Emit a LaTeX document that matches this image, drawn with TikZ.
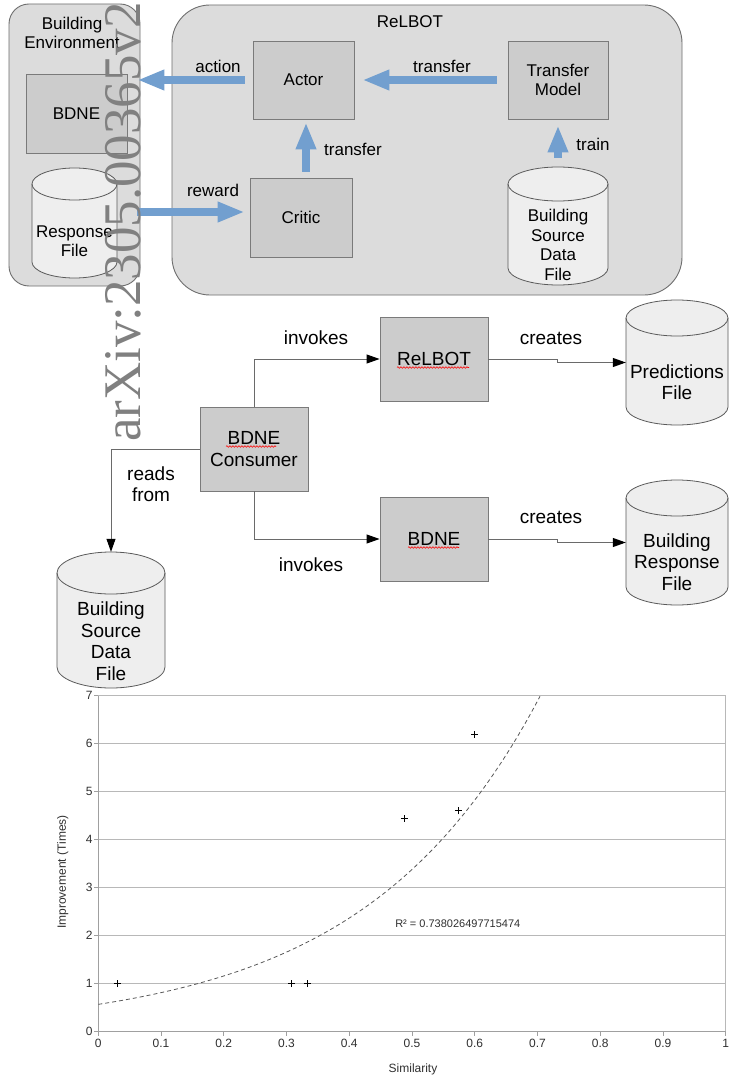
\documentclass[tikz,border=0pt]{standalone}
\usepackage{fontspec}
\setmainfont{Liberation Sans}
\newfontfamily\wmfont{Liberation Serif}
\usetikzlibrary{arrows.meta,calc,decorations.pathmorphing}
\definecolor{contfill}{HTML}{DCDCDC}
\definecolor{contline}{HTML}{6E6E6E}
\definecolor{boxfill}{HTML}{CCCCCC}
\definecolor{boxline}{HTML}{7A7A7A}
\definecolor{cylfill}{HTML}{EEEEEE}
\definecolor{cylline}{HTML}{5A5A5A}
\definecolor{bluearrow}{HTML}{729FCF}
\definecolor{connline}{HTML}{6A6A6A}
\definecolor{gridgray}{HTML}{B8B8B8}
\definecolor{axisgray}{HTML}{A0A0A0}
\definecolor{chartext}{HTML}{303030}
\definecolor{wmgray}{HTML}{808080}
\newcommand{\ftop}{\fontsize{17}{19.5}\selectfont}
\newcommand{\fmid}{\fontsize{19}{21.5}\selectfont}
\newcommand{\fchart}{\fontsize{12}{14}\selectfont}
\newcommand{\fsmall}{\fontsize{11}{13}\selectfont}
% name, cx, cy, rx, half height, ry
\newcommand{\dbcyl}[6]{%
  \filldraw[cylstyle] ({#2-#4},{#3+#5-#6}) arc[start angle=180,end angle=360,x radius=#4pt,y radius=#6pt]
     -- ({#2+#4},{#3-#5+#6}) arc[start angle=0,end angle=180,x radius=#4pt,y radius=#6pt] -- cycle;
  \draw[cylstyle,fill=none] ({#2-#4},{#3-#5+#6}) arc[start angle=180,end angle=360,x radius=#4pt,y radius=#6pt];
  \pgfmathsetmacro{\cylW}{2*#4}\pgfmathsetmacro{\cylH}{2*#5}%
  \node[inner sep=0pt,minimum width=\cylW pt,minimum height=\cylH pt] (#1) at (#2,#3) {};
}
\begin{document}
\begin{tikzpicture}[x=1pt,y=-1pt,
  cont/.style={draw=contline,fill=contfill,line width=0.9pt,inner sep=0pt},
  box/.style={draw=boxline,fill=boxfill,line width=0.9pt,inner sep=0pt,align=center},
  cylstyle/.style={draw=cylline,fill=cylfill,line width=0.8pt},
  txt/.style={align=center,inner sep=0pt},
  bluearr/.style={draw=bluearrow,line width=8pt,-{Triangle[length=27pt,width=19pt]}},
  conn/.style={draw=connline,line width=1pt,-{Triangle[length=13pt,width=9pt,color=black]}},
  spell/.style={draw=red,line width=0.6pt,decorate,decoration={snake,amplitude=0.8pt,segment length=3pt}},
  grid/.style={draw=gridgray,line width=0.8pt},
  axisline/.style={draw=axisgray,line width=0.8pt},
  trend/.style={draw=black!65,line width=0.8pt,dash pattern=on 4pt off 3pt},
  mk/.style={draw=black,line width=0.9pt},
  ticklab/.style={font=\fchart,text=chartext,inner sep=0pt}]
\useasboundingbox[fill=white] (0,0) rectangle (735,1086);

% ---------- top: containers ----------
\node[cont,rounded corners=20pt,minimum width=131pt,minimum height=282pt] (env) at (74.5,145) {};
\node[cont,rounded corners=38pt,minimum width=510pt,minimum height=290pt] (relbotc) at (427,150) {};
\node[txt,font=\ftop] (envlab) at (72,33) {Building\\Environment};
\node[txt,font=\ftop] (relbotlab) at (410,22) {ReLBOT};

% ---------- top: boxes ----------
\node[box,font=\ftop,minimum width=101pt,minimum height=79pt] (envbdne) at (76.5,113.5) {BDNE};
\node[box,font=\ftop,minimum width=101pt,minimum height=78pt] (actor) at (303.5,80) {Actor};
\node[box,font=\ftop,minimum width=102pt,minimum height=79pt] (critic) at (301,217.5) {Critic};
\node[box,font=\ftop,minimum width=100pt,minimum height=78pt] (tmodel) at (558,80) {Transfer\\Model};

\dbcyl{resp}{74.5}{223}{42.5}{55}{16}
\node[txt,font=\ftop] (resptxt) at (74.5,241) {Response\\File};
\dbcyl{srctop}{558}{226}{50}{59}{17}
\node[txt,font=\ftop] (srctoptxt) at (558,245) {Building\\Source\\Data\\File};

% ---------- top: blue arrows ----------
\draw[bluearr,shorten <=8pt,shorten >=-3pt] (actor.west) -- (actor.west -| env.east);
\draw[bluearr,shorten <=11pt,shorten >=8pt] (tmodel.west) -- (actor.east);
\draw[bluearr,shorten <=6pt,shorten >=3pt] ([xshift=5pt]critic.north) -- ([xshift=5pt]critic.north |- actor.south);
\draw[bluearr,shorten <=-3pt,shorten >=5pt] ([yshift=5.5pt]critic.west -| env.east) -- ([yshift=5.5pt]critic.west);
\draw[bluearr,shorten <=9pt,shorten >=6pt] (srctop.north) -- (tmodel.south);
\node[txt,font=\ftop] (lact) at (218,66) {action};
\node[txt,font=\ftop] (ltr1) at (442,66) {transfer};
\node[txt,font=\ftop] (ltr2) at (353,149) {transfer};
\node[txt,font=\ftop] (lrew) at (213,190) {reward};
\node[txt,font=\ftop] (ltrain) at (593,144) {train};

% ---------- middle ----------
\node[box,font=\fmid,minimum width=108pt,minimum height=84pt] (cons) at (254,449) {BDNE\\Consumer};
\node[box,font=\fmid,minimum width=108pt,minimum height=84pt] (relbot2) at (434,359) {ReLBOT};
\node[box,font=\fmid,minimum width=108pt,minimum height=84pt] (bdne2) at (434,539) {BDNE};
\draw[spell] (226,446.5) -- (276,446.5);
\draw[spell] (397,367.5) -- (469,367.5);
\draw[spell] (408,547.5) -- (459,547.5);

\dbcyl{pred}{677}{362.5}{51}{62.5}{18}
\node[txt,font=\fmid] (predtxt) at (677,382) {Predictions\\File};
\dbcyl{bresp}{677}{542.5}{51}{62.5}{18}
\node[txt,font=\fmid] (bresptxt) at (677,562) {Building\\Response\\File};
\dbcyl{srcbot}{111}{620}{54}{68}{21}
\node[txt,font=\fmid] (srcbottxt) at (111,641) {Building\\Source\\Data\\File};

\draw[conn] (cons.north) |- (relbot2.west);
\draw[conn] (cons.south) |- (bdne2.west);
\draw[conn] (cons.west) -| (srcbot.north);
\draw[conn] (relbot2.east) -- ++(69,0) |- (pred.west);
\draw[conn] (bdne2.east) -- ++(69,0) |- (bresp.west);
\node[txt,font=\fmid] (linv1) at (316,338) {invokes};
\node[txt,font=\fmid] (linv2) at (311,565) {invokes};
\node[txt,font=\fmid] (lreads) at (151,484) {reads\\from};
\node[txt,font=\fmid] (lcr1) at (551,338) {creates};
\node[txt,font=\fmid] (lcr2) at (551,517) {creates};

% ---------- chart ----------
\begin{scope}[shift={(98.3,1031.7)},x=627.4pt,y=48pt]
  \foreach \k in {1,...,7} \draw[grid] (0,\k) -- (1,\k);
  \draw[grid] (1,0) -- (1,7);
  \draw[axisline] (0,0) -- (0,7);
  \draw[axisline] (0,0) -- (1,0);
  \foreach \t in {0,0.1,...,1.01} \draw[axisline] (\t,0) -- ++(0,-4pt);
  \foreach \k in {0,...,7} \draw[axisline] (0,\k) -- ++(-4pt,0);
  \foreach \k in {0,...,7} \node[ticklab,anchor=east,xshift=-5.5pt] at (0,\k) {\k};
  \foreach \t/\l in {0/0,0.1/0.1,0.2/0.2,0.3/0.3,0.4/0.4,0.5/0.5,0.6/0.6,0.7/0.7,0.8/0.8,0.9/0.9,1/1}
    \node[ticklab,anchor=north,yshift=-7pt] at (\t,0) {\l};
  \draw[trend] plot[domain=0:0.7045,samples=80] (\x,{0.57*exp(3.56*\x)});
  \foreach \p/\q in {0.03/1,0.308/1,0.333/1,0.488/4.45,0.574/4.6,0.6/6.2}
    \draw[mk] (\p,\q) +(-3.5pt,0) -- +(3.5pt,0) +(0,-3.5pt) -- +(0,3.5pt);
  \node[font=\fsmall,text=chartext,anchor=west,inner sep=0pt] (r2) at (0.473,2.24) {R² = 0.738026497715474};
\end{scope}
\node[font=\fchart,text=chartext,rotate=90,inner sep=0pt] (ylab) at (62.7,872) {Improvement (Times)};
\node[font=\fchart,text=chartext,inner sep=0pt] (xlab) at (413,1069) {Similarity};

% ---------- watermark ----------
\node[rotate=90,anchor=base west,inner sep=0pt,text=wmgray,font=\wmfont\fontsize{52.9}{60}\selectfont] (wm) at (140,442) {arXiv:2305.00365v2};
\end{tikzpicture}
\end{document}
